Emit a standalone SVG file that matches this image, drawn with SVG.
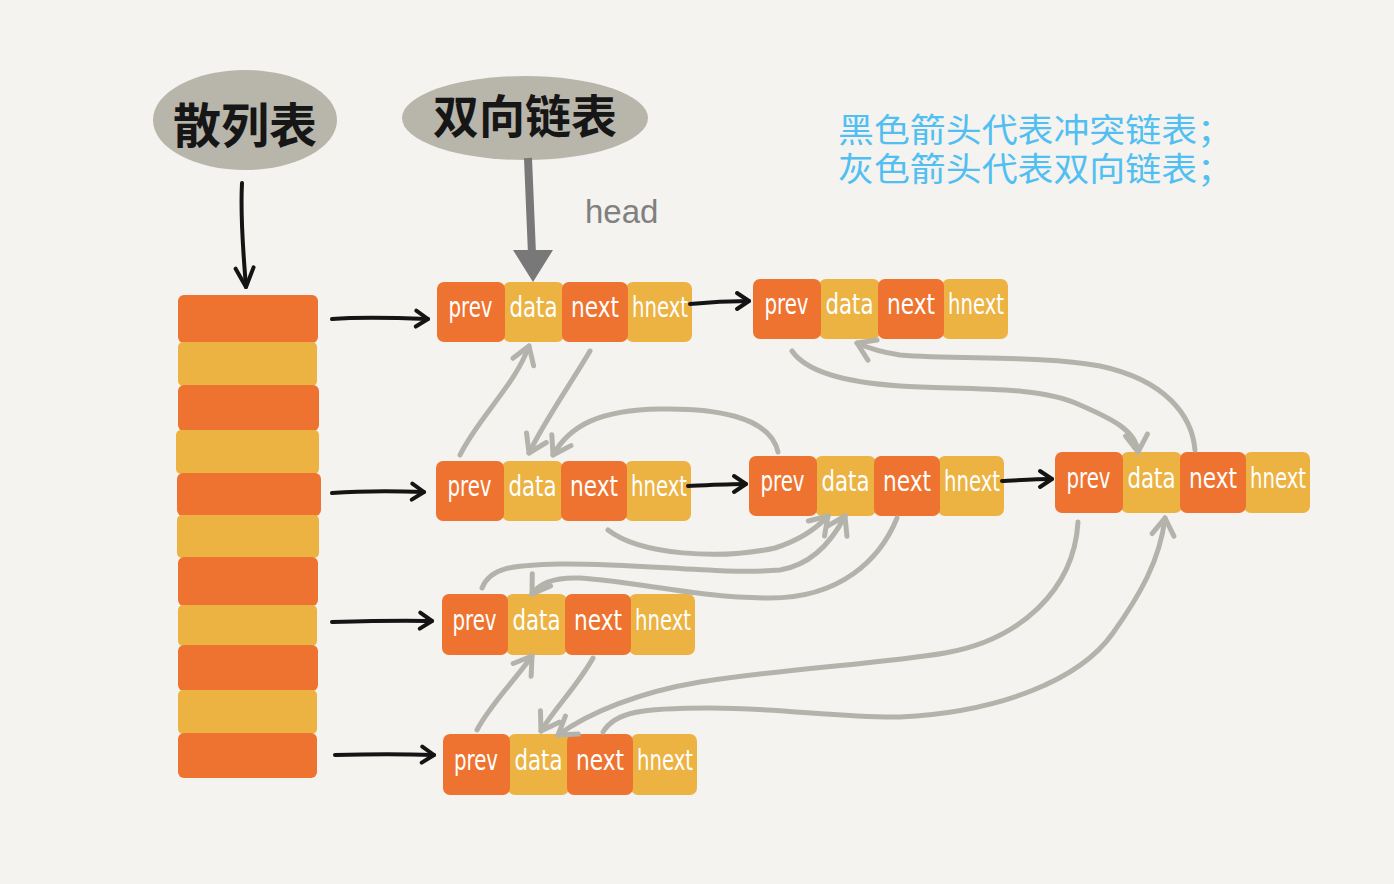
<svg xmlns="http://www.w3.org/2000/svg" width="1394" height="884" viewBox="0 0 1394 884">
<defs>
<style>
.o{fill:#ef7330}
.y{fill:#ecb343}
.t{font-family:'Liberation Sans Narrow','DejaVu Sans Condensed','Liberation Sans',sans-serif;font-size:29px;fill:#ffffff;text-anchor:middle}
.g{stroke:#b4b3ab;stroke-width:5;fill:none;stroke-linecap:round;marker-end:url(#ga)}
.b{stroke:#141414;stroke-width:4;fill:none;stroke-linecap:round;marker-end:url(#ba)}
.blob{fill:#b8b5ab}
.hand{font-family:'Noto Sans CJK SC','Noto Sans CJK JP',sans-serif;font-weight:700;fill:#161616;text-anchor:middle}
.legend{font-family:'Noto Sans CJK SC','Noto Sans CJK JP',sans-serif;font-size:33px;fill:#52bff2}
</style>
<marker id="ga" viewBox="-25 -20 30 40" markerWidth="30" markerHeight="40" refX="0" refY="0" orient="auto" markerUnits="userSpaceOnUse">
<path d="M-17,-11 L0,0 L-17,11" fill="none" stroke="#b4b3ab" stroke-width="5" stroke-linecap="round" stroke-linejoin="round"/>
</marker>
<marker id="ba" viewBox="-20 -15 25 30" markerWidth="25" markerHeight="30" refX="0" refY="0" orient="auto" markerUnits="userSpaceOnUse">
<path d="M-12,-8 L0,0 L-12,8" fill="none" stroke="#141414" stroke-width="4" stroke-linecap="round" stroke-linejoin="round"/>
</marker>
<marker id="bb" viewBox="-25 -15 30 30" markerWidth="30" markerHeight="30" refX="0" refY="0" orient="auto" markerUnits="userSpaceOnUse">
<path d="M-19,-9 L0,0 L-19,9" fill="none" stroke="#141414" stroke-width="4" stroke-linecap="round" stroke-linejoin="round"/>
</marker>
</defs>
<rect x="0" y="0" width="1394" height="884" fill="#f4f3ef"/>

<g id="hash-table">
<rect class="o" x="178" y="295" width="140" height="48" rx="6"/>
<rect class="y" x="178" y="342" width="139" height="44" rx="5"/>
<rect class="o" x="178" y="385" width="141" height="46" rx="6"/>
<rect class="y" x="176" y="430" width="143" height="44" rx="5"/>
<rect class="o" x="177" y="473" width="144" height="43" rx="6"/>
<rect class="y" x="177" y="515" width="142" height="43" rx="5"/>
<rect class="o" x="178" y="557" width="140" height="49" rx="6"/>
<rect class="y" x="178" y="605" width="139" height="41" rx="5"/>
<rect class="o" x="178" y="645" width="140" height="46" rx="6"/>
<rect class="y" x="178" y="690" width="139" height="44" rx="5"/>
<rect class="o" x="178" y="733" width="139" height="45" rx="6"/>
</g>

<g id="label-hash">
<ellipse class="blob" cx="245" cy="120" rx="92" ry="50"/>
<text class="hand" x="245" y="143" font-size="48">散列表</text>
</g>

<g id="label-dll">
<ellipse class="blob" cx="525" cy="118" rx="123" ry="42"/>
<text class="hand" x="525" y="133" font-size="46">双向链表</text>
</g>

<g id="head-label">
<text x="585" y="223" font-family="'Liberation Sans',sans-serif" font-size="33" fill="#808080">head</text>
</g>

<g id="legend">
<text class="legend"><tspan x="838" y="142" textLength="395" lengthAdjust="spacingAndGlyphs">黑色箭头代表冲突链表；</tspan><tspan x="838" y="181" textLength="395" lengthAdjust="spacingAndGlyphs">灰色箭头代表双向链表；</tspan></text>
</g>

<g id="node-A">
<rect class="y" x="503" y="282" width="61" height="60" rx="7"/>
<rect class="y" x="626" y="282" width="66" height="60" rx="7"/>
<rect class="o" x="437" y="282" width="68" height="60" rx="7"/>
<rect class="o" x="562" y="282" width="66" height="60" rx="7"/>
<text class="t" x="470.5" y="317" textLength="44" lengthAdjust="spacingAndGlyphs">prev</text>
<text class="t" x="533.5" y="317" textLength="48" lengthAdjust="spacingAndGlyphs">data</text>
<text class="t" x="595" y="317" textLength="48" lengthAdjust="spacingAndGlyphs">next</text>
<text class="t" x="660" y="317" textLength="56" lengthAdjust="spacingAndGlyphs">hnext</text>
</g>

<g id="node-B">
<rect class="y" x="819" y="279" width="61" height="60" rx="7"/>
<rect class="y" x="942" y="279" width="66" height="60" rx="7"/>
<rect class="o" x="753" y="279" width="68" height="60" rx="7"/>
<rect class="o" x="878" y="279" width="66" height="60" rx="7"/>
<text class="t" x="786.5" y="314" textLength="44" lengthAdjust="spacingAndGlyphs">prev</text>
<text class="t" x="849.5" y="314" textLength="48" lengthAdjust="spacingAndGlyphs">data</text>
<text class="t" x="911" y="314" textLength="48" lengthAdjust="spacingAndGlyphs">next</text>
<text class="t" x="976" y="314" textLength="56" lengthAdjust="spacingAndGlyphs">hnext</text>
</g>

<g id="node-C">
<rect class="y" x="502" y="461" width="61" height="60" rx="7"/>
<rect class="y" x="625" y="461" width="66" height="60" rx="7"/>
<rect class="o" x="436" y="461" width="68" height="60" rx="7"/>
<rect class="o" x="561" y="461" width="66" height="60" rx="7"/>
<text class="t" x="469.5" y="496" textLength="44" lengthAdjust="spacingAndGlyphs">prev</text>
<text class="t" x="532.5" y="496" textLength="48" lengthAdjust="spacingAndGlyphs">data</text>
<text class="t" x="594" y="496" textLength="48" lengthAdjust="spacingAndGlyphs">next</text>
<text class="t" x="659" y="496" textLength="56" lengthAdjust="spacingAndGlyphs">hnext</text>
</g>

<g id="node-D">
<rect class="y" x="815" y="456" width="61" height="60" rx="7"/>
<rect class="y" x="938" y="456" width="66" height="60" rx="7"/>
<rect class="o" x="749" y="456" width="68" height="60" rx="7"/>
<rect class="o" x="874" y="456" width="66" height="60" rx="7"/>
<text class="t" x="782.5" y="491" textLength="44" lengthAdjust="spacingAndGlyphs">prev</text>
<text class="t" x="845.5" y="491" textLength="48" lengthAdjust="spacingAndGlyphs">data</text>
<text class="t" x="907" y="491" textLength="48" lengthAdjust="spacingAndGlyphs">next</text>
<text class="t" x="972" y="491" textLength="56" lengthAdjust="spacingAndGlyphs">hnext</text>
</g>

<g id="node-E">
<rect class="y" x="1121" y="452" width="61" height="61" rx="7"/>
<rect class="y" x="1244" y="452" width="66" height="61" rx="7"/>
<rect class="o" x="1055" y="452" width="68" height="61" rx="7"/>
<rect class="o" x="1180" y="452" width="66" height="61" rx="7"/>
<text class="t" x="1088.5" y="488" textLength="44" lengthAdjust="spacingAndGlyphs">prev</text>
<text class="t" x="1151.5" y="488" textLength="48" lengthAdjust="spacingAndGlyphs">data</text>
<text class="t" x="1213" y="488" textLength="48" lengthAdjust="spacingAndGlyphs">next</text>
<text class="t" x="1278" y="488" textLength="56" lengthAdjust="spacingAndGlyphs">hnext</text>
</g>

<g id="node-F">
<rect class="y" x="506" y="594" width="61" height="61" rx="7"/>
<rect class="y" x="629" y="594" width="66" height="61" rx="7"/>
<rect class="o" x="442" y="594" width="66" height="61" rx="7"/>
<rect class="o" x="565" y="594" width="66" height="61" rx="7"/>
<text class="t" x="474.5" y="630" textLength="44" lengthAdjust="spacingAndGlyphs">prev</text>
<text class="t" x="536.5" y="630" textLength="48" lengthAdjust="spacingAndGlyphs">data</text>
<text class="t" x="598" y="630" textLength="48" lengthAdjust="spacingAndGlyphs">next</text>
<text class="t" x="663" y="630" textLength="56" lengthAdjust="spacingAndGlyphs">hnext</text>
</g>

<g id="node-G">
<rect class="y" x="508" y="734" width="61" height="61" rx="7"/>
<rect class="y" x="631" y="734" width="66" height="61" rx="7"/>
<rect class="o" x="443" y="734" width="67" height="61" rx="7"/>
<rect class="o" x="567" y="734" width="66" height="61" rx="7"/>
<text class="t" x="476" y="770" textLength="44" lengthAdjust="spacingAndGlyphs">prev</text>
<text class="t" x="538.5" y="770" textLength="48" lengthAdjust="spacingAndGlyphs">data</text>
<text class="t" x="600" y="770" textLength="48" lengthAdjust="spacingAndGlyphs">next</text>
<text class="t" x="665" y="770" textLength="56" lengthAdjust="spacingAndGlyphs">hnext</text>
</g>

<g id="connectors">
<path d="M242,183 C240,220 244,260 246,287" stroke="#141414" stroke-width="4" fill="none" stroke-linecap="round" marker-end="url(#bb)"/>
<line x1="528" y1="158" x2="532" y2="254" stroke="#787878" stroke-width="8"/>
<polygon points="513,250 553,250 533,282" fill="#787878"/>
<path class="b" d="M332,319 C360,317 400,318 428,319"/>
<path class="b" d="M332,493 C360,491 395,491 424,492"/>
<path class="b" d="M332,622 C365,621 400,620 432,621"/>
<path class="b" d="M335,755 C370,754 405,754 434,755"/>
<path class="b" d="M690,304 C710,302 730,301 749,301"/>
<path class="b" d="M688,486 C710,485 728,484 746,484"/>
<path class="b" d="M1002,481 C1020,480 1036,479 1052,479"/>
<path class="g" d="M460,455 C478,418 515,385 529,346"/>
<path class="g" d="M590,351 C570,385 545,420 529,453"/>
<path class="g" d="M778,452 C770,415 710,408 660,409 C600,410 570,425 553,455"/>
<path class="g" d="M608,530 C640,555 720,560 775,548 C800,540 815,530 828,516"/>
<path class="g" d="M482,588 C490,568 510,565 560,564 C640,563 720,575 780,570 C810,565 830,545 845,516"/>
<path class="g" d="M897,518 C880,560 840,598 770,598 C700,598 640,582 580,578 C555,577 540,582 532,594"/>
<path class="g" d="M477,730 C490,705 515,680 532,656"/>
<path class="g" d="M593,658 C578,685 555,708 541,731"/>
<path class="g" d="M1078,522 C1074,590 1020,640 945,653 C880,664 790,668 700,682 C640,692 590,712 558,735"/>
<path class="g" d="M603,732 C615,712 640,708 710,708 C780,708 840,718 900,717 C1000,712 1080,680 1113,633 C1140,595 1160,560 1165,518"/>
<path class="g" d="M1195,450 C1192,415 1165,380 1100,366 C1040,355 960,360 900,355 C880,352 868,348 857,343"/>
<path class="g" d="M792,351 C805,370 840,382 900,386 C960,390 1040,385 1080,405 C1110,418 1136,430 1138,452"/>
</g>
</svg>
